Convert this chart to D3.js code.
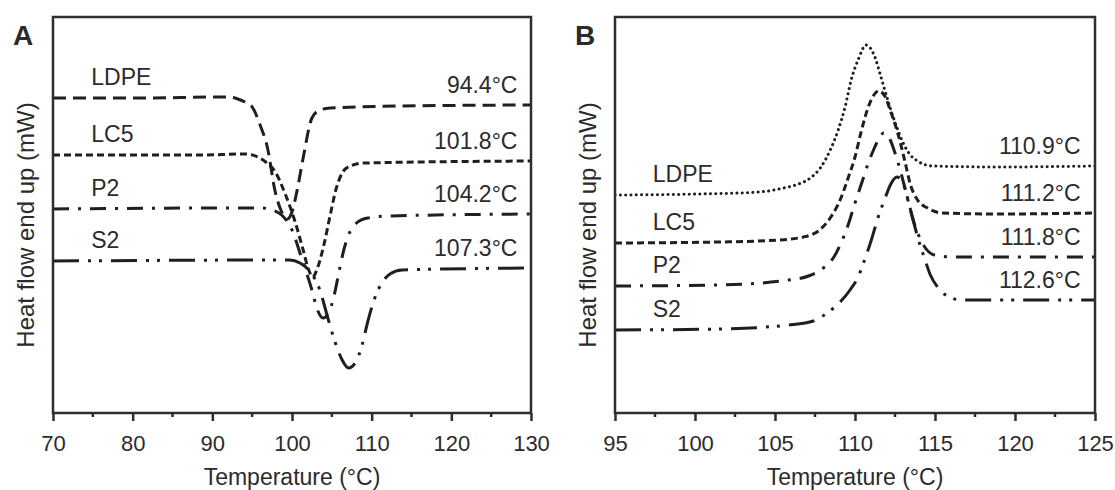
<!DOCTYPE html>
<html>
<head>
<meta charset="utf-8">
<script src="https://cdn.jsdelivr.net/npm/d3@7"></script>
<style>
  body { margin: 0; background: #fff; }
  text { font-family: "Liberation Sans", Arial, sans-serif; fill: #2b2b2b; }
</style>
</head>
<body>
<svg id="chart" width="1115" height="490"></svg>
<script>
// ---- data (heat flow in arbitrary units, 0..99) ----
const names = ["LDPE", "LC5", "P2", "S2"];
const peaksA = ["94.4°C", "101.8°C", "104.2°C", "107.3°C"];
const peaksB = ["110.9°C", "111.2°C", "111.8°C", "112.6°C"];
const ticksA = [70, 80, 90, 100, 110, 120, 130];
const ticksB = [95, 100, 105, 110, 115, 120, 125];

// panel A : melting
const ldpeA = [[70,78.75],[82.2,78.75],[90.1,79],[92,79],[93.2,78.5],[94.1,77.75],[95,76.5],[96,72],[96.9,66.5],
  [97.9,55.25],[98.6,50.75],[99.4,48.5],[100,50.25],[100.6,55.25],[101.4,63.75],[102.5,73.75],[103.5,75.75],
  [104.8,76.25],[113.5,76.75],[130,77]];
const lc5A = [[70,64.5],[88.4,64.5],[94.1,64.75],[95.7,64],[96.7,62.75],[97.9,60.25],[99.1,55],[100.4,47.75],
  [101.4,40.75],[102.1,35.75],[102.6,34],[103.2,36.25],[104,42],[104.8,49.5],[105.5,55.75],[106.3,60],
  [107.3,61.75],[109.1,62.5],[130,63]];
const p2A = [[70,51],[92.2,51.25],[96.2,51.25],[97.5,50.75],[98.7,49.5],[100,45.75],[101.2,38.75],[102.5,30.75],
  [103.2,25.75],[103.9,23.75],[104.6,25],[105.3,29.5],[105.9,35.25],[106.5,40.75],[107.1,44.5],[108.1,47.5],
  [109.5,48.75],[112.3,49.25],[130,49.75]];
const s2A = [[70,38],[99.7,38.25],[101,37.5],[102.2,35.5],[103.5,30.75],[104.5,23.75],[105.4,17.75],[106.3,13.25],
  [107.1,11.25],[108,12.75],[108.8,17],[109.5,22.75],[110.3,28.25],[111.2,32.25],[112.3,34.75],[113.8,35.75],
  [130,36.25]];

// panel B : crystallisation
const ldpeB = [[95,54.5],[100.27,54.75],[103.99,55.25],[105.54,56.25],[106.47,57.25],[107.21,58.75],[107.83,61.25],
  [108.45,65.75],[108.95,70.75],[109.38,76.5],[109.76,83.25],[110.19,88.25],[110.69,92],[111.24,89],[111.55,85],
  [111.86,80.75],[112.24,75.75],[112.61,71.5],[112.98,67.75],[113.41,64.75],[113.91,63],[114.84,61.75],
  [118.87,61.5],[125,61.75]];
const lc5B = [[95,42.5],[101.51,42.75],[105.23,43.25],[106.78,44],[107.71,45.5],[108.45,48.75],[109.07,53.25],
  [109.57,58.75],[110,64],[110.38,70.25],[110.81,76.25],[111.18,79.5],[111.49,80.5],[111.86,79.25],[112.24,75.25],
  [112.67,70],[113.1,63.25],[113.47,57],[113.91,53.25],[114.53,51.25],[115.46,50],[118.87,49.75],[125,50]];
const p2B = [[95,31.75],[101.51,32],[105.85,33.25],[107.09,34.25],[108.02,36.25],[108.64,38.75],[109.07,42],
  [109.57,47],[110,52.5],[110.44,57.75],[110.81,62.25],[111.24,66.5],[111.55,69],[111.8,70],[112.11,69],
  [112.48,65.25],[112.86,60.25],[113.23,54.5],[113.6,48.75],[113.97,44.5],[114.4,41.25],[114.96,39.5],
  [116.08,39],[125,39]];
const s2B = [[95,20.75],[101.51,21],[105.85,22],[107.4,23],[108.33,25.25],[109.07,27.75],[109.69,30.75],
  [110.19,34],[110.62,38.5],[111.06,43.75],[111.43,48.75],[111.86,53.5],[112.24,57.25],[112.61,59],[112.92,58.25],
  [113.23,54.5],[113.6,48.75],[113.97,43.25],[114.34,38.75],[114.71,34.5],[115.15,31.5],[115.77,29.25],
  [116.7,28.25],[125,28.25]];

// ---- layout ----
const svg = d3.select("#chart");
const plotTop = 17, plotBottom = 413;
const ink = "#1f1f1f";

const panels = [
  { letter: "A", left: 53, right: 531, domain: [70, 130], ticks: ticksA, minor: 5,
    series: [ldpeA, lc5A, p2A, s2A], peaks: peaksA,
    dashes: ["13,7", "7,4", "16,9,3,9", "26,9,3,8,3,9"], nameT: 74.8, peakT: 128.3 },
  { letter: "B", left: 615, right: 1095, domain: [95, 125], ticks: ticksB, minor: 2.5,
    series: [ldpeB, lc5B, p2B, s2B], peaks: peaksB,
    dashes: ["0.1,5.2", "7,4", "16,9,3,9", "26,9,3,8,3,9"], nameT: 97.36, peakT: 124.1 }
];

panels.forEach((p, pi) => {
  const x = d3.scaleLinear().domain(p.domain).range([p.left, p.right]);
  const y = d3.scaleLinear().domain([0, 99]).range([plotBottom, plotTop]);

  const clipId = "clip" + pi;
  svg.append("clipPath").attr("id", clipId)
    .append("rect")
    .attr("x", p.left).attr("y", plotTop)
    .attr("width", p.right - p.left).attr("height", plotBottom - plotTop);

  const line = d3.line()
    .x(d => x(d[0]))
    .y(d => y(d[1]))
    .curve(d3.curveMonotoneX);

  svg.append("g")
    .attr("clip-path", `url(#${clipId})`)
    .selectAll("path")
    .data(p.series)
    .join("path")
    .attr("d", line)
    .attr("fill", "none")
    .attr("stroke", ink)
    .attr("stroke-width", 3)
    .attr("stroke-linecap", (d, i) => (pi === 1 && i === 0) ? "round" : "butt")
    .attr("stroke-dasharray", (d, i) => p.dashes[i]);

  // frame
  svg.append("rect")
    .attr("x", p.left).attr("y", plotTop)
    .attr("width", p.right - p.left).attr("height", plotBottom - plotTop)
    .attr("fill", "none")
    .attr("stroke", "#2e2e2e")
    .attr("stroke-width", 2.5);

  // bottom axis: major ticks with labels, minor ticks between
  const ax = svg.append("g").attr("transform", `translate(0,${plotBottom})`);
  ax.call(d3.axisBottom(x).tickValues(p.ticks).tickSize(8).tickPadding(14).tickFormat(d3.format("d")));
  ax.select(".domain").remove();
  ax.selectAll(".tick line").attr("stroke", "#2e2e2e").attr("stroke-width", 2.5);
  ax.selectAll(".tick text").attr("font-size", 22).attr("fill", "#2b2b2b")
    .attr("font-family", "'Liberation Sans', Arial, sans-serif");

  const minorTicks = d3.range(p.domain[0] + p.minor, p.domain[1], p.minor * 2);
  svg.append("g").selectAll("line")
    .data(minorTicks)
    .join("line")
    .attr("x1", d => x(d)).attr("x2", d => x(d))
    .attr("y1", plotBottom).attr("y2", plotBottom + 4)
    .attr("stroke", "#2e2e2e").attr("stroke-width", 2.5);

  svg.append("text")
    .attr("x", (p.left + p.right) / 2)
    .attr("y", 485)
    .attr("text-anchor", "middle")
    .attr("font-size", 23)
    .text("Temperature (°C)");

  svg.append("text")
    .attr("transform", "rotate(-90)")
    .attr("x", -225)
    .attr("y", p.left - 19)
    .attr("text-anchor", "middle")
    .attr("font-size", 24)
    .text("Heat flow end up (mW)");

  svg.append("text")
    .attr("x", p.left - 40)
    .attr("y", 45)
    .attr("font-size", 28)
    .attr("font-weight", "bold")
    .attr("fill", "#1a1a1a")
    .text(p.letter);

  // curve names on the left, peak temperatures on the right
  svg.append("g").selectAll("text")
    .data(names)
    .join("text")
    .attr("x", x(p.nameT))
    .attr("y", (d, i) => y(p.series[i][0][1]) - 13)
    .attr("font-size", 23)
    .text(d => d);

  svg.append("g").selectAll("text")
    .data(p.peaks)
    .join("text")
    .attr("x", x(p.peakT))
    .attr("y", (d, i) => y(p.series[i][p.series[i].length - 1][1]) - 12)
    .attr("text-anchor", "end")
    .attr("font-size", 23)
    .text(d => d);
});
</script>
</body>
</html>
